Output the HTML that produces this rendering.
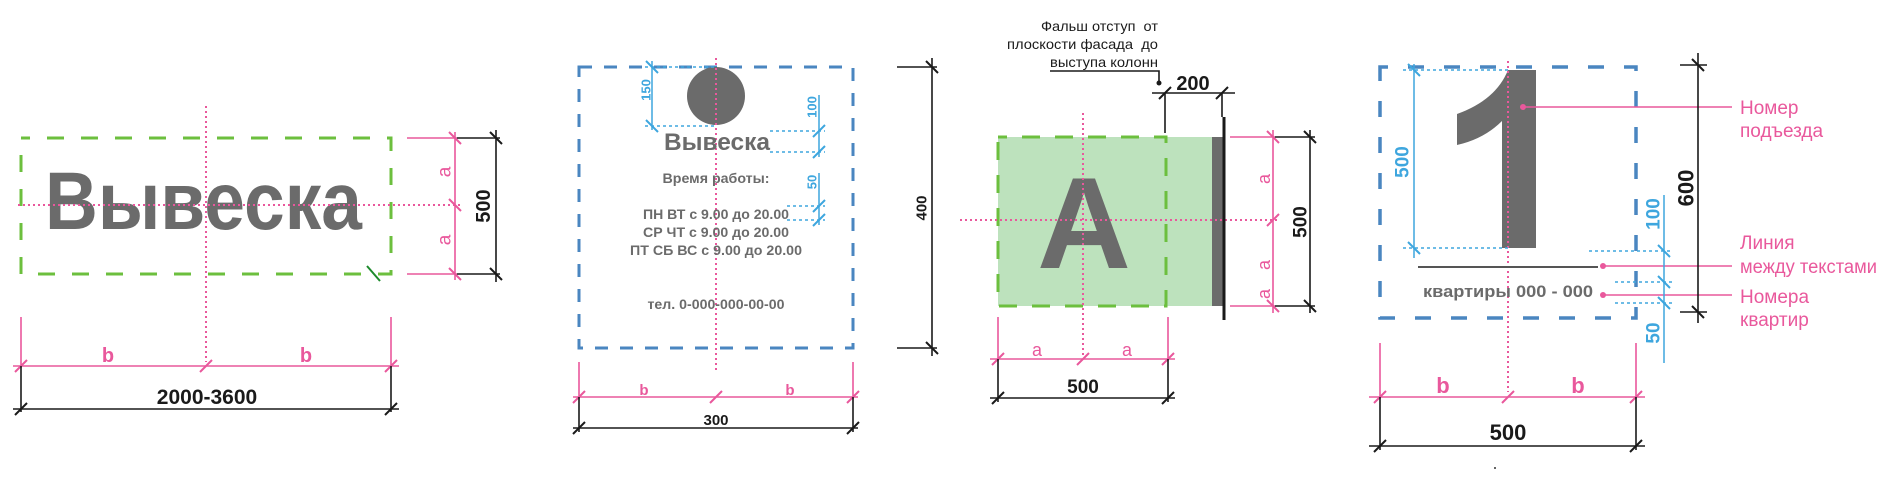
<!DOCTYPE html>
<html><head><meta charset="utf-8"><style>
html,body{margin:0;padding:0;background:#fff;}
svg{display:block;}
text{font-family:"Liberation Sans",Arial,sans-serif;}
.pk{stroke:#e9589c;stroke-width:1.6;fill:none;}
.bk{stroke:#1a1a1a;stroke-width:1.6;fill:none;}
.bl{stroke:#3ea6de;stroke-width:1.5;fill:none;}
.bld{stroke:#3ea6de;stroke-width:1.5;fill:none;stroke-dasharray:3 3;}
.dot{stroke:#e9589c;stroke-width:2;fill:none;stroke-dasharray:2 3;}
.tk{stroke-width:2;}
</style></head><body>
<svg width="1890" height="490" viewBox="0 0 1890 490" xmlns="http://www.w3.org/2000/svg">

<!-- ================= PANEL 1 ================= -->
<rect x="21" y="138" width="370" height="136" fill="none" stroke="#6cbf3e" stroke-width="3" stroke-dasharray="17 17" stroke-dashoffset="8"/>
<text x="45" y="229" font-size="82" font-weight="bold" fill="#6b6b6b" textLength="317" lengthAdjust="spacingAndGlyphs">Вывеска</text>
<line x1="206" y1="106" x2="206" y2="362" class="dot"/>
<line x1="18" y1="205" x2="462" y2="205" class="dot"/>
<line x1="367" y1="266" x2="380" y2="281" stroke="#1d8a2c" stroke-width="2"/>
<!-- right dims -->
<path class="pk" d="M407,138 H457 M407,274 H457 M455,132 V280"/>
<path class="pk tk" d="M449,132 L461,144 M449,199 L461,211 M449,268 L461,280"/>
<path class="bk" d="M457,138 H500 M457,274 H500 M496,130 V282"/>
<path class="bk tk" d="M490,132 L502,144 M490,268 L502,280"/>
<text transform="translate(445,172) rotate(-90)" font-size="19" fill="#e9589c" text-anchor="middle" dominant-baseline="central">a</text>
<text transform="translate(445,240) rotate(-90)" font-size="19" fill="#e9589c" text-anchor="middle" dominant-baseline="central">a</text>
<text transform="translate(484,206) rotate(-90)" font-size="20" font-weight="bold" fill="#1a1a1a" text-anchor="middle" dominant-baseline="central">500</text>
<!-- bottom dims -->
<path class="pk" d="M21,317 V368 M391,317 V368 M13,366 H399"/>
<path class="pk tk" d="M15,372 L27,360 M200,372 L212,360 M385,372 L397,360"/>
<text x="108" y="362" font-size="20" font-weight="bold" fill="#e9589c" text-anchor="middle">b</text>
<text x="306" y="362" font-size="20" font-weight="bold" fill="#e9589c" text-anchor="middle">b</text>
<path class="bk" d="M21,366 V412 M391,366 V412 M13,409 H399"/>
<path class="bk tk" d="M15,415 L27,403 M385,415 L397,403"/>
<text x="207" y="404" font-size="21" font-weight="bold" fill="#1a1a1a" text-anchor="middle">2000-3600</text>

<!-- ================= PANEL 2 ================= -->
<rect x="579" y="67" width="274" height="281" fill="none" stroke="#4a86c0" stroke-width="3" stroke-dasharray="13 12"/>
<circle cx="716" cy="96" r="29" fill="#6b6b6b"/>
<line x1="716" y1="58" x2="716" y2="370" class="dot"/>
<!-- 150 -->
<path class="bl" d="M652,61 V130"/>
<path class="bld" d="M645,67 H716 M645,126 H716"/>
<path class="bl tk" d="M646,61 L658,73 M646,120 L658,132"/>
<text transform="translate(646,90) rotate(-90)" font-size="13" font-weight="bold" fill="#3ea6de" text-anchor="middle" dominant-baseline="central">150</text>
<!-- 100 -->
<path class="bl" d="M819,95 V157"/>
<path class="bld" d="M770,131 H825 M770,152 H825"/>
<path class="bl tk" d="M813,137 L825,125 M813,158 L825,146"/>
<text transform="translate(812,107) rotate(-90)" font-size="13" font-weight="bold" fill="#3ea6de" text-anchor="middle" dominant-baseline="central">100</text>
<!-- 50 -->
<path class="bl" d="M819,173 V225"/>
<path class="bld" d="M787,206 H825 M787,220 H825"/>
<path class="bl tk" d="M813,212 L825,200 M813,226 L825,214"/>
<text transform="translate(812,182) rotate(-90)" font-size="13" font-weight="bold" fill="#3ea6de" text-anchor="middle" dominant-baseline="central">50</text>
<!-- texts -->
<text x="717" y="150" font-size="24" font-weight="bold" fill="#6b6b6b" text-anchor="middle" textLength="106" lengthAdjust="spacingAndGlyphs">Вывеска</text>
<text x="716" y="183" font-size="14" font-weight="bold" fill="#6b6b6b" text-anchor="middle" textLength="107" lengthAdjust="spacingAndGlyphs">Время работы:</text>
<text x="716" y="219" font-size="14" font-weight="bold" fill="#6b6b6b" text-anchor="middle" textLength="146" lengthAdjust="spacingAndGlyphs">ПН ВТ с 9.00 до 20.00</text>
<text x="716" y="237" font-size="14" font-weight="bold" fill="#6b6b6b" text-anchor="middle" textLength="146" lengthAdjust="spacingAndGlyphs">СР ЧТ с 9.00 до 20.00</text>
<text x="716" y="255" font-size="14" font-weight="bold" fill="#6b6b6b" text-anchor="middle" textLength="172" lengthAdjust="spacingAndGlyphs">ПТ СБ ВС с 9.00 до 20.00</text>
<text x="716" y="309" font-size="14" font-weight="bold" fill="#6b6b6b" text-anchor="middle" textLength="137" lengthAdjust="spacingAndGlyphs">тел. 0-000-000-00-00</text>
<!-- 400 -->
<path class="bk" d="M897,67 H937 M897,348 H937 M932,58 V356"/>
<path class="bk tk" d="M926,61 L938,73 M926,342 L938,354"/>
<text transform="translate(922,208) rotate(-90)" font-size="15" font-weight="bold" fill="#1a1a1a" text-anchor="middle" dominant-baseline="central">400</text>
<!-- bottom -->
<path class="pk" d="M579,362 V399 M853,362 V399 M573,397 H858"/>
<path class="pk tk" d="M573,403 L585,391 M710,403 L722,391 M847,403 L859,391"/>
<text x="644" y="395" font-size="15" font-weight="bold" fill="#e9589c" text-anchor="middle">b</text>
<text x="790" y="395" font-size="15" font-weight="bold" fill="#e9589c" text-anchor="middle">b</text>
<path class="bk" d="M579,397 V432 M853,397 V432 M573,428 H858"/>
<path class="bk tk" d="M573,434 L585,422 M847,434 L859,422"/>
<text x="716" y="425" font-size="15" font-weight="bold" fill="#1a1a1a" text-anchor="middle">300</text>

<!-- ================= PANEL 3 ================= -->
<text x="1158" y="31" font-size="14" fill="#1a1a1a" text-anchor="end" textLength="117" lengthAdjust="spacingAndGlyphs">Фальш отступ&#160; от</text>
<text x="1158" y="49" font-size="14" fill="#1a1a1a" text-anchor="end" textLength="151" lengthAdjust="spacingAndGlyphs">плоскости фасада&#160; до</text>
<text x="1158" y="67" font-size="14" fill="#1a1a1a" text-anchor="end" textLength="108" lengthAdjust="spacingAndGlyphs">выступа колонн</text>
<path class="bk" d="M1050,71 H1159 V83" stroke-width="1.4"/>
<circle cx="1159" cy="83" r="2.5" fill="#1a1a1a"/>
<rect x="998" y="137" width="214" height="169" fill="#bde2bd"/>
<rect x="1212" y="137" width="11" height="169" fill="#6b6b6b"/>
<rect x="998" y="137" width="168" height="169" fill="none" stroke="#6cbf3e" stroke-width="3" stroke-dasharray="18 15" stroke-dashoffset="9"/>
<text x="1084" y="268" font-size="130" font-weight="bold" fill="#6b6b6b" text-anchor="middle">A</text>
<line x1="1083" y1="113" x2="1083" y2="355" class="dot"/>
<line x1="960" y1="220" x2="1278" y2="220" class="dot"/>
<!-- 200 -->
<path class="bk" d="M1152,93 H1235 M1165,93 V133 M1222,93 V117"/>
<path class="bk tk" d="M1159,99 L1171,87 M1216,99 L1228,87"/>
<line x1="1224" y1="117" x2="1224" y2="320" stroke="#1a1a1a" stroke-width="3"/>
<text x="1193" y="90" font-size="20" font-weight="bold" fill="#1a1a1a" text-anchor="middle">200</text>
<!-- right 500 -->
<path class="pk" d="M1230,137 H1275 M1230,306 H1275 M1273,130 V313"/>
<path class="pk tk" d="M1267,131 L1279,143 M1267,226 L1279,214 M1267,300 L1279,312"/>
<path class="bk" d="M1275,137 H1315 M1275,306 H1315 M1310,130 V313"/>
<path class="bk tk" d="M1304,131 L1316,143 M1304,300 L1316,312"/>
<text transform="translate(1264,179) rotate(-90)" font-size="18" fill="#e9589c" text-anchor="middle" dominant-baseline="central">a</text>
<text transform="translate(1264,265) rotate(-90)" font-size="18" fill="#e9589c" text-anchor="middle" dominant-baseline="central">a</text>
<text transform="translate(1264,294) rotate(-90)" font-size="18" fill="#e9589c" text-anchor="middle" dominant-baseline="central">a</text>
<text transform="translate(1301,222) rotate(-90)" font-size="19" font-weight="bold" fill="#1a1a1a" text-anchor="middle" dominant-baseline="central">500</text>
<!-- bottom -->
<path class="pk" d="M998,317 V361 M1168,317 V361 M990,359 H1175"/>
<path class="pk tk" d="M992,365 L1004,353 M1077,365 L1089,353 M1162,365 L1174,353"/>
<text x="1037" y="356" font-size="18" fill="#e9589c" text-anchor="middle">a</text>
<text x="1127" y="356" font-size="18" fill="#e9589c" text-anchor="middle">a</text>
<path class="bk" d="M998,359 V402 M1168,359 V402 M990,398 H1175"/>
<path class="bk tk" d="M992,404 L1004,392 M1162,404 L1174,392"/>
<text x="1083" y="393" font-size="19" font-weight="bold" fill="#1a1a1a" text-anchor="middle">500</text>

<!-- ================= PANEL 4 ================= -->
<rect x="1380" y="67" width="256" height="251" fill="none" stroke="#4a86c0" stroke-width="3.5" stroke-dasharray="16 20" stroke-dashoffset="8"/>
<path d="M1508,70 L1536,70 L1536,248 L1502,248 L1502,121 Q1484,139 1457,145 L1457,114 Q1496,100 1508,70 Z" fill="#6b6b6b"/>
<line x1="1508" y1="61" x2="1508" y2="392" class="dot"/>
<!-- blue 500 -->
<path class="bl" d="M1414,64 V258"/>
<path class="bld" d="M1403,70 H1508 M1403,248 H1508"/>
<path class="bl tk" d="M1408,64 L1420,76 M1408,242 L1420,254"/>
<text transform="translate(1403,162) rotate(-90)" font-size="19" font-weight="bold" fill="#3ea6de" text-anchor="middle" dominant-baseline="central">500</text>
<line x1="1418" y1="267" x2="1598" y2="267" stroke="#555" stroke-width="2"/>
<text x="1508" y="297" font-size="17" font-weight="bold" fill="#6b6b6b" text-anchor="middle" textLength="170" lengthAdjust="spacingAndGlyphs">квартиры 000 - 000</text>
<!-- pink leaders -->
<path class="pk" d="M1523,107 H1732 M1603,266 H1732 M1603,295 H1732"/>
<circle cx="1523" cy="107" r="3" fill="#e9589c"/>
<circle cx="1603" cy="266" r="3" fill="#e9589c"/>
<circle cx="1603" cy="295" r="3" fill="#e9589c"/>
<text x="1740" y="114" font-size="19" fill="#e9589c">Номер</text>
<text x="1740" y="137" font-size="19" fill="#e9589c">подъезда</text>
<text x="1740" y="249" font-size="19" fill="#e9589c">Линия</text>
<text x="1740" y="273" font-size="19" fill="#e9589c" textLength="137" lengthAdjust="spacingAndGlyphs">между текстами</text>
<text x="1740" y="303" font-size="19" fill="#e9589c">Номера</text>
<text x="1740" y="326" font-size="19" fill="#e9589c">квартир</text>
<!-- blue right dims -->
<path class="bl" d="M1664,195 V363"/>
<path class="bld" d="M1589,251 H1673 M1615,282 H1673 M1615,303 H1673"/>
<path class="bl tk" d="M1658,245 L1670,257 M1658,276 L1670,288 M1658,297 L1670,309"/>
<text transform="translate(1654,214) rotate(-90)" font-size="19" font-weight="bold" fill="#3ea6de" text-anchor="middle" dominant-baseline="central">100</text>
<text transform="translate(1654,333) rotate(-90)" font-size="19" font-weight="bold" fill="#3ea6de" text-anchor="middle" dominant-baseline="central">50</text>
<!-- 600 -->
<path class="bk" d="M1680,65 H1707 M1680,312 H1707 M1698,53 V323"/>
<path class="bk tk" d="M1692,59 L1704,71 M1692,306 L1704,318"/>
<text transform="translate(1686,188) rotate(-90)" font-size="22" font-weight="bold" fill="#1a1a1a" text-anchor="middle" dominant-baseline="central">600</text>
<!-- bottom -->
<path class="pk" d="M1380,343 V399 M1636,343 V399 M1369,397 H1645"/>
<path class="pk tk" d="M1374,403 L1386,391 M1502,403 L1514,391 M1630,403 L1642,391"/>
<text x="1443" y="393" font-size="22" font-weight="bold" fill="#e9589c" text-anchor="middle">b</text>
<text x="1578" y="393" font-size="22" font-weight="bold" fill="#e9589c" text-anchor="middle">b</text>
<path class="bk" d="M1380,397 V450 M1636,397 V450 M1369,446 H1645"/>
<path class="bk tk" d="M1374,452 L1386,440 M1630,452 L1642,440"/>
<text x="1508" y="440" font-size="22" font-weight="bold" fill="#1a1a1a" text-anchor="middle">500</text>
<circle cx="1495" cy="468" r="1" fill="#333"/>
</svg>
</body></html>
